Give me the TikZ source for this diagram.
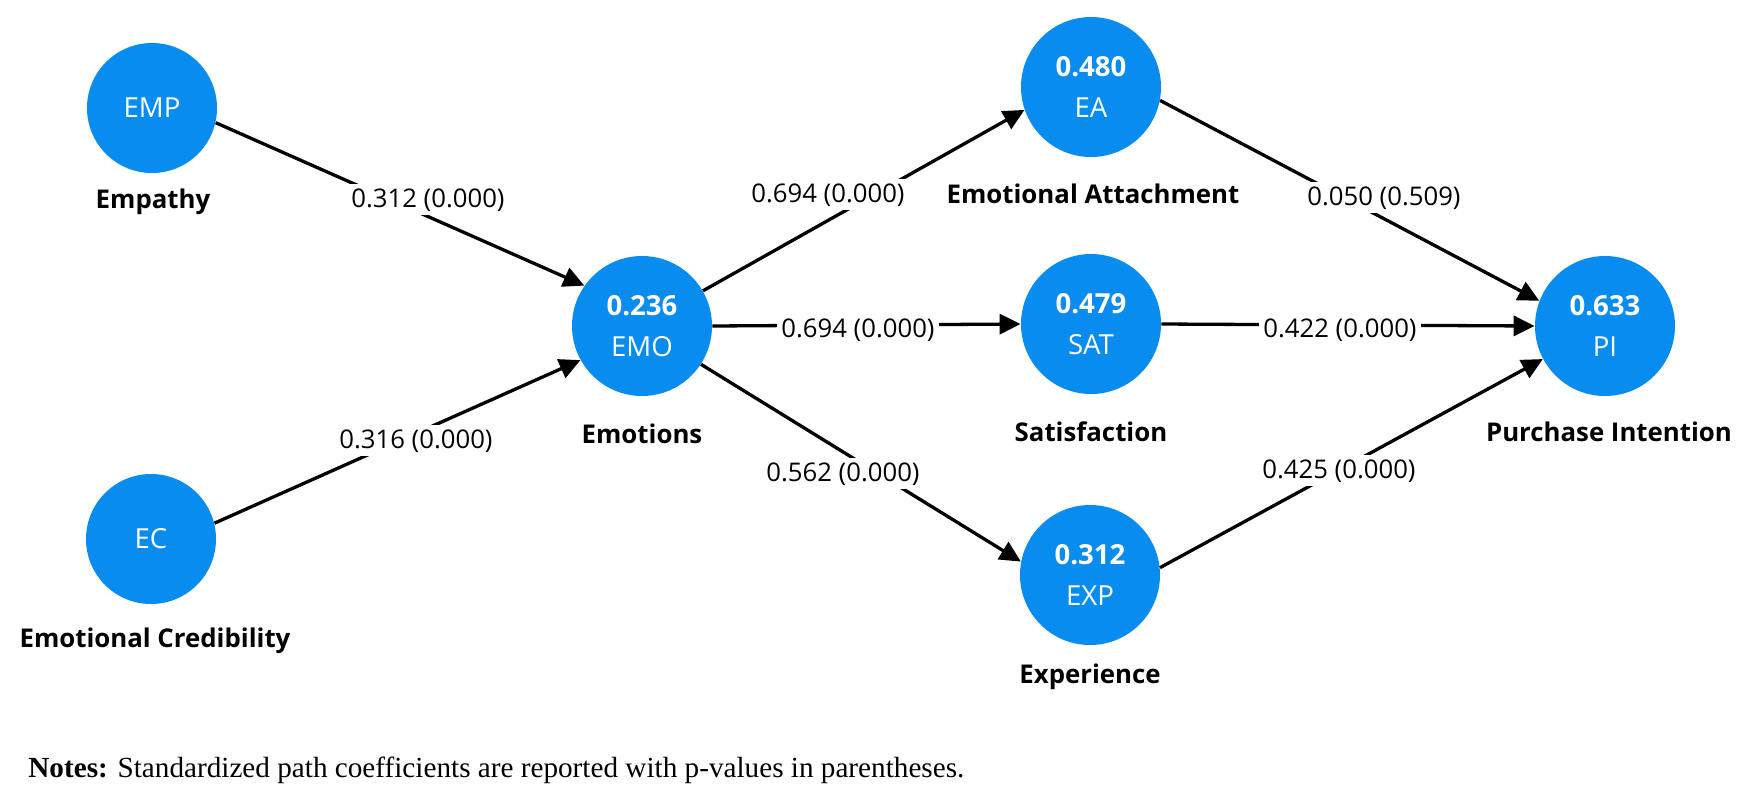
\documentclass[tikz,border=0pt]{standalone}
\usepackage{fontspec}
\setmainfont{Open Sans}
\newfontfamily\notesfont{Liberation Serif}
\usetikzlibrary{arrows.meta}
\definecolor{nodeblue}{RGB}{8,140,240}
\begin{document}
\begin{tikzpicture}[x=0.5pt,y=-0.5pt,
  bignode/.style={circle,fill=nodeblue,draw=none,minimum size=70pt,inner sep=0pt,text=white,align=center,font=\fontsize{13.8}{20.5}\selectfont},
  smallnode/.style={bignode,minimum size=65pt},
  lbl/.style={anchor=base,font=\bfseries\fontsize{12.9}{15}\selectfont},
  coef/.style={anchor=base,fill=white,inner sep=2pt,font=\fontsize{12.85}{15}\selectfont},
  arr/.style={line width=1.65pt,-{Triangle[length=10.5pt,width=10pt]}},
]
\useasboundingbox[fill=white] (0,0) rectangle (1753,800);
% constructs
\node[smallnode] (EMP) at (152,108) {EMP};
\node[smallnode] (EC)  at (151,539) {EC};
\node[bignode] (EMO) at (642,326) {\textbf{0.236}\\EMO};
\node[bignode] (EA)  at (1091,87) {\textbf{0.480}\\EA};
\node[bignode] (SAT) at (1091,324) {\textbf{0.479}\\SAT};
\node[bignode] (EXP) at (1090,575) {\textbf{0.312}\\EXP};
\node[bignode] (PI)  at (1605,326) {\textbf{0.633}\\PI};
% names
\node[lbl] (lEMP) at (153,208) {Empathy};
\node[lbl] (lEC)  at (155,647) {Emotional Credibility};
\node[lbl] (lEMO) at (642,443) {Emotions};
\node[lbl] (lEA)  at (1093,203) {Emotional Attachment};
\node[lbl] (lSAT) at (1091,441) {Satisfaction};
\node[lbl] (lPI)  at (1609,441) {Purchase Intention};
\node[lbl] (lEXP) at (1090,683) {Experience};
% paths
\draw[arr] (EMP.-13) -- (EMO.145);
\draw[arr] (EC.14) -- (EMO.-151);
\draw[arr] (EMO.30) -- (EA.-161);
\draw[arr] (EMO.east) -- (SAT.west);
\draw[arr] (EMO.-33) -- (EXP.169.5);
\draw[arr] (EA.-11.5) -- (PI.159);
\draw[arr] (SAT.east) -- (PI.west);
\draw[arr] (EXP.6.5) -- (PI.-152);
% coefficients
\node[coef] (c1) at (428,207) {0.312 (0.000)};
\node[coef] (c2) at (416,448) {0.316 (0.000)};
\node[coef] (c3) at (828,202) {0.694 (0.000)};
\node[coef] (c4) at (858,337) {0.694 (0.000)};
\node[coef] (c5) at (843,481) {0.562 (0.000)};
\node[coef] (c6) at (1384,205) {0.050 (0.509)};
\node[coef] (c7) at (1340,337) {0.422 (0.000)};
\node[coef] (c8) at (1339,478) {0.425 (0.000)};
% notes
\node[anchor=base west,inner sep=0pt,font=\notesfont\fontsize{14.6}{17}\selectfont] (notes) at (28,777) {\textbf{Notes:} Standardized path coefficients are reported with p-values in parentheses.};
\end{tikzpicture}
\end{document}
